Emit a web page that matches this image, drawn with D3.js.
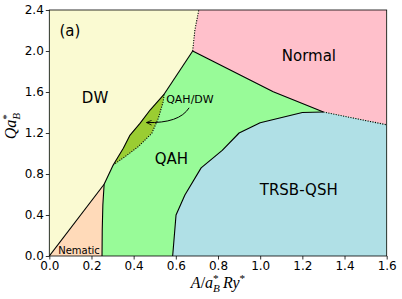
<!DOCTYPE html>
<html><head><meta charset="utf-8">
<script src="https://cdn.jsdelivr.net/npm/d3@7"></script>
<style>html,body{margin:0;padding:0;background:#fff;}svg{display:block;}</style>
</head><body>
<svg id="chart" width="402" height="299"></svg>
<script>
// ---- data (in axis units: A/a_B* Ry* , Q a_B*) ----
const xTicks = [0.0,0.2,0.4,0.6,0.8,1.0,1.2,1.4,1.6];
const yTicks = [0.0,0.4,0.8,1.2,1.6,2.0,2.4];
const xDomain = [0, 1.6];
const yDomain = [0, 2.4];

// phase boundaries
const nematicTop   = [[0,0],[0.26,0.70]];                                  // DW | Nematic (solid)
const nematicRight = [[0.25,0],[0.251,0.25],[0.254,0.50],[0.26,0.70]];      // Nematic | QAH (solid)
const dwQahLower   = [[0.26,0.70],[0.303,0.888]];                           // DW | QAH (solid)
const oliveLeft    = [[0.303,0.888],[0.351,1.051],[0.383,1.18],[0.43,1.294],[0.478,1.424],[0.545,1.58]]; // DW | QAH/DW (solid)
const oliveRight   = [[0.303,0.888],[0.359,0.969],[0.422,1.067],[0.486,1.197],[0.517,1.343],[0.54,1.505],[0.545,1.58]]; // QAH/DW | QAH (dotted)
const dwQahUpper   = [[0.545,1.58],[0.68,2.0]];                             // DW | QAH (solid)
const dwNormal     = [[0.68,2.0],[0.69,2.2],[0.709,2.4]];                   // DW | Normal (dotted)
const qahNormal    = [[0.68,2.0],[1.062,1.603],[1.30,1.405]];               // QAH | Normal (solid)
const normalTrsb   = [[1.30,1.405],[1.6,1.28]];                             // Normal | TRSB-QSH (dotted)
const qahTrsb      = [[1.30,1.405],[1.2,1.40],[1.0,1.30],[0.9,1.20],[0.82,1.03],[0.72,0.86],[0.643,0.595],[0.601,0.40],[0.585,0.0]]; // QAH | TRSB (solid)

// annotation text (data coords)
const labels = [
  {t:"(a)",      x:0.098, y:2.195, size:15},
  {t:"DW",       x:0.217, y:1.544, size:15},
  {t:"QAH/DW",   x:0.667, y:1.529, size:11},
  {t:"QAH",      x:0.579, y:0.953, size:15},
  {t:"Normal",   x:1.231, y:1.951, size:15},
  {t:"TRSB-QSH", x:1.183, y:0.651, size:15},
  {t:"Nematic",  x:0.141, y:0.059, size:10}
];
const arrowPts = {from:[0.663,1.446], ctrl:[0.616,1.293], to:[0.461,1.302]};

// ---- scales ----
const x = d3.scaleLinear().domain(xDomain).range([49.3, 386.7]);
const y = d3.scaleLinear().domain(yDomain).range([256, 10]);
const svg = d3.select("#chart");

const rev = a => a.slice().reverse();
const poly = pts => "M" + pts.map(p => x(p[0]) + "," + y(p[1])).join("L") + "Z";
const line = d3.line().x(d => x(d[0])).y(d => y(d[1]));

const C = {dw:"#FAFAD2", normal:"#FFC0CB", qah:"#98FB98", trsb:"#B0E0E6", nem:"#FFDAB9", olive:"#9ACD32"};

svg.append("clipPath").attr("id","clip").append("rect")
  .attr("x", x(0)).attr("y", y(2.4)).attr("width", x(1.6)-x(0)).attr("height", y(0)-y(2.4));
const plot = svg.append("g").attr("clip-path","url(#clip)");

// QAH as background of plot area
plot.append("rect").attr("x", x(0)).attr("y", y(2.4)).attr("width", x(1.6)-x(0)).attr("height", y(0)-y(2.4)).attr("fill", C.qah);

const nematicPoly = [...nematicTop, ...rev(nematicRight)];
const dwPoly = [[0,0],[0,2.4], ...rev(dwNormal), ...rev(dwQahUpper).slice(1), ...rev(oliveLeft).slice(1), ...rev(dwQahLower).slice(1), ...rev(nematicTop).slice(1)];
const olivePoly = [...oliveLeft, ...rev(oliveRight).slice(1)];
const normalPoly = [[0.709,2.4],[1.6,2.4], ...rev(normalTrsb), ...rev(qahNormal).slice(1), ...dwNormal.slice(1)];
const trsbPoly = [[1.6,0],[1.6,1.28], ...qahTrsb];

[[nematicPoly,C.nem],[dwPoly,C.dw],[olivePoly,C.olive],[normalPoly,C.normal],[trsbPoly,C.trsb]].forEach(([p,c]) => {
  plot.append("path").attr("d", poly(p)).attr("fill", c).attr("stroke", "none");
});

// boundaries
const solid = [nematicTop, nematicRight, dwQahLower, oliveLeft, dwQahUpper, qahNormal, qahTrsb];
const dotted = [oliveRight, dwNormal, normalTrsb];
solid.forEach(b => plot.append("path").attr("d", line(b)).attr("fill","none").attr("stroke","#000").attr("stroke-width",1.1).attr("stroke-linejoin","round"));
dotted.forEach(b => plot.append("path").attr("d", line(b)).attr("fill","none").attr("stroke","#000").attr("stroke-width",1.1).attr("stroke-dasharray","1.1,1.4"));

// labels
labels.forEach(l => {
  svg.append("text").attr("x", x(l.x)).attr("y", y(l.y)).attr("dy","0.36em")
    .attr("text-anchor","middle").attr("font-family","DejaVu Sans, sans-serif")
    .attr("font-size", l.size).attr("fill","#000").text(l.t);
});

// arrow
const defs = svg.append("defs");
defs.append("marker").attr("id","ah").attr("viewBox","0 0 10 10").attr("refX",9.5).attr("refY",5)
  .attr("markerWidth",6).attr("markerHeight",6).attr("orient","auto-start-reverse").attr("markerUnits","userSpaceOnUse")
  .append("path").attr("d","M1,1L9.5,5L1,9").attr("fill","none").attr("stroke","#000").attr("stroke-width",1.3);
svg.append("path")
  .attr("d", `M${x(arrowPts.from[0])},${y(arrowPts.from[1])}Q${x(arrowPts.ctrl[0])},${y(arrowPts.ctrl[1])} ${x(arrowPts.to[0])},${y(arrowPts.to[1])}`)
  .attr("fill","none").attr("stroke","#000").attr("stroke-width",1).attr("marker-end","url(#ah)");

// axes
const fmt = d3.format(".1f");
const gx = svg.append("g").attr("transform", `translate(0,${y(0)})`)
  .call(d3.axisBottom(x).tickValues(xTicks).tickFormat(fmt).tickSize(3.5).tickPadding(2));
const gy = svg.append("g").attr("transform", `translate(${x(0)},0)`)
  .call(d3.axisLeft(y).tickValues(yTicks).tickFormat(fmt).tickSize(3.5).tickPadding(2));
[gx,gy].forEach(g => {
  g.select(".domain").remove();
  g.selectAll("line").attr("stroke","#000").attr("stroke-width",0.8);
  g.selectAll("text").attr("font-family","DejaVu Sans, sans-serif").attr("font-size",12).attr("fill","#000");
});

// frame
svg.append("rect").attr("x", x(0)).attr("y", y(2.4)).attr("width", x(1.6)-x(0)).attr("height", y(0)-y(2.4))
  .attr("fill","none").attr("stroke","#000").attr("stroke-width",0.8);

// math axis labels: one text element, tspans with sup/sub stacking
const FAM = "Liberation Serif, DejaVu Serif, serif";
function measure(s, size) {
  const t = svg.append("text").attr("font-family",FAM).attr("font-style", s.it ? "italic":"normal")
    .attr("font-size", size).text(s.t);
  const w = t.node().getComputedTextLength(); t.remove(); return w;
}
function mathLabel(g, segs, size) {
  const t = g.append("text").attr("font-family",FAM).attr("font-size",size).attr("fill","#000");
  let base = 0, prevW = 0, total = 0, cx = 0, prevStart = 0;
  segs.forEach(s => {
    const small = s.sup || s.sub;
    const fs = small ? size*0.7 : size;
    const w = measure(s, fs);
    const target = s.sup ? -size*0.36 : s.sub ? size*0.26 : 0;
    const ts = t.append("tspan").attr("font-size", fs).attr("font-style", s.it ? "italic":"normal")
      .attr("dy", target - base).text(s.t);
    base = target;
    if (s.stack) { ts.attr("dx", -prevW); const st = prevStart; cx = Math.max(cx, st + w); prevStart = st; }
    else if (s.gap) { ts.attr("dx", s.gap + (cx - (prevStart + prevW))); prevStart = cx + s.gap; cx = prevStart + w; }
    else { const dx = cx - (prevStart + prevW); if (dx) ts.attr("dx", dx); prevStart = cx; cx += w; }
    prevW = s.stack ? w : w;
    if (s.stack) prevW = w; 
  });
  return cx;
}
const xl = svg.append("g");
const xw = mathLabel(xl, [
  {t:"A",it:true},{t:"/"},{t:"a",it:true},{t:"*",sup:true},{t:"B",sub:true,it:true,stack:true},
  {t:"Ry",it:true,gap:3},{t:"*",sup:true}], 16);
xl.attr("transform", `translate(${(x(0)+x(1.6))/2 - xw/2},288)`);

const yl = svg.append("g");
const yw = mathLabel(yl, [{t:"Q",it:true},{t:"a",it:true},{t:"*",sup:true},{t:"B",sub:true,it:true,stack:true}], 16);
yl.attr("transform", `translate(16,${126 + yw/2}) rotate(-90)`);
</script>
</body></html>
